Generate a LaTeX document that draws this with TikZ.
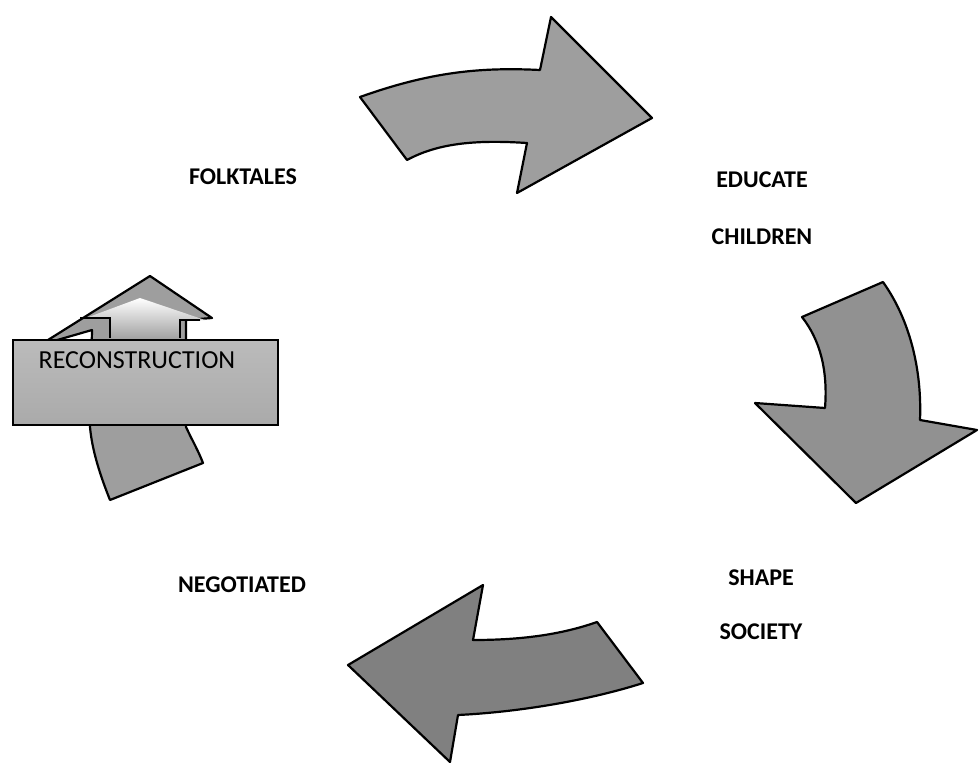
\documentclass[tikz,border=0pt]{standalone}
\usepackage{fontspec}
\setmainfont{Carlito}
\usepackage{xcolor}
\usepackage{tikz}
\usetikzlibrary{positioning,calc}

\definecolor{arrowgray}{RGB}{158,158,158}
\definecolor{arrowdark}{RGB}{128,128,128}
\definecolor{boxgray}{RGB}{170,170,170}

\tikzset{
    bigarrow/.style={draw=black, line width=2.2pt, line join=round},
    label/.style={font=\fontsize{24}{28}\selectfont\bfseries, inner sep=0pt}
}

\begin{document}
\begin{tikzpicture}[x=1pt, y=-1pt]
    \useasboundingbox (0,0) rectangle (980,763);

    % Arrows
    \fill[bigarrow, fill=arrowgray] (360,97) .. controls (430,72) and (480,67) .. (540,70) -- (551,17) -- (652,118)
        -- (517,193) -- (527,143) .. controls (480,140) and (440,142) .. (407,160) -- cycle;
    \fill[bigarrow, fill=arrowgray!92!black] (802,317) -- (883,282) .. controls (910,320) and (922,370) .. (920,420)
        -- (977,430) -- (856,503) -- (755,403) -- (825,408) .. controls (828,370) and (820,340) .. (802,317) -- cycle;
    \fill[bigarrow, fill=arrowdark] (597,622) -- (643,683) .. controls (590,700) and (520,712) .. (458,715)
        -- (450,762) -- (348,665) -- (483,585) -- (473,640) .. controls (520,640) and (560,635) .. (597,622) -- cycle;
    \fill[bigarrow, fill=arrowgray] (150,276) -- (212,318) -- (186,320) -- (186,427) .. controls (192,440) and (198,450) .. (203,463)
        -- (110,500) .. controls (100,475) and (92,450) .. (90,427) -- (92,330) -- (40,345) -- cycle;

    % Arrow head face
    \shade[top color=white, bottom color=arrowgray] (140,298) -- (205,320) -- (180,320) -- (180,340)
        -- (110,340) -- (110,318) -- (86,318) -- cycle;
    \draw[line width=2.2pt] (80,318) -- (110,318) -- (110,338);
    \draw[line width=2.2pt] (200,320) -- (180,320) -- (180,338);

    % Box
    \node[draw=black, line width=2.2pt, top color=boxgray!80!white, bottom color=boxgray,
          minimum width=265pt, minimum height=85pt, inner sep=0pt] (recon) at (145.5,382.5) {};
    \node[font=\fontsize{26}{30}\selectfont, inner sep=0pt] (recontext) at (137,360) {RECONSTRUCTION};

    % Labels
    \node[label] (folk) at (243,177) {FOLKTALES};
    \node[label] (edu) at (762,180) {EDUCATE};
    \node[label] (child) at (762,237) {CHILDREN};
    \node[label] (shape) at (761,578) {SHAPE};
    \node[label] (soc) at (761,632) {SOCIETY};
    \node[label] (nego) at (242,585) {NEGOTIATED};
\end{tikzpicture}
\end{document}
